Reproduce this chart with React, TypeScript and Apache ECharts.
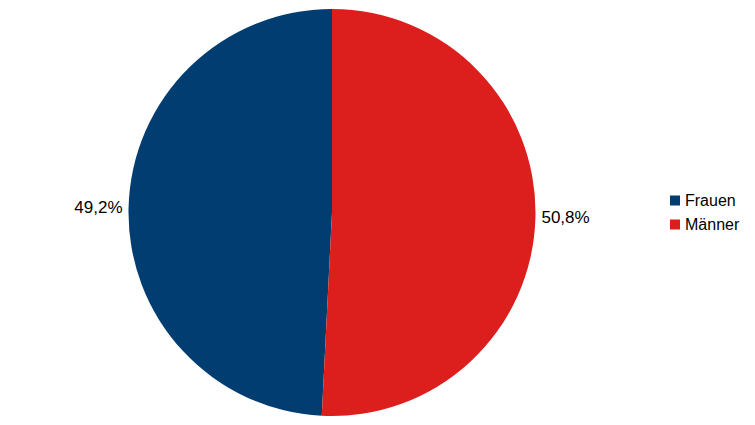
import React, { useEffect, useRef } from "react";
import * as echarts from "echarts";

const categories = ["Frauen", "Männer"];
const values = [49.2, 50.8];
const colors = ["#023d71", "#dc1e1c"];

export default function App() {
  const ref = useRef<HTMLDivElement>(null);
  useEffect(() => {
    if (!ref.current) return;
    const chart = echarts.init(ref.current, undefined, { renderer: "svg" });
    const data = categories.map((name, i) => ({
      name,
      value: values[i],
      itemStyle: { color: colors[i] },
    }));
    chart.setOption({
      animation: false,
      backgroundColor: "#ffffff",
      legend: {
        orient: "vertical",
        left: 665,
        top: "middle",
        data: categories,
        icon: "rect",
        itemWidth: 10,
        itemHeight: 10,
        itemGap: 8,
        textStyle: { fontFamily: "Liberation Sans, Arial", fontSize: 16, color: "#000" },
      },
      series: [
        {
          type: "pie",
          center: [332, 212.5],
          radius: 203.5,
          startAngle: 90,
          clockwise: false,
          data,
          itemStyle: { borderWidth: 0 },
          label: {
            show: true,
            position: "outside",
            fontFamily: "Liberation Sans, Arial",
            fontSize: 17,
            color: "#000",
            distanceToLabelLine: 5,
            formatter: (p: any) => p.value.toFixed(1).replace(".", ",") + "%",
          },
          labelLine: { show: false, length: 0, length2: 1 },
        },
      ],
    });
    return () => chart.dispose();
  }, []);
  return (
    <div
      ref={ref}
      style={{ position: "absolute", left: 0, top: 0, width: 755, height: 425 }}
    />
  );
}
